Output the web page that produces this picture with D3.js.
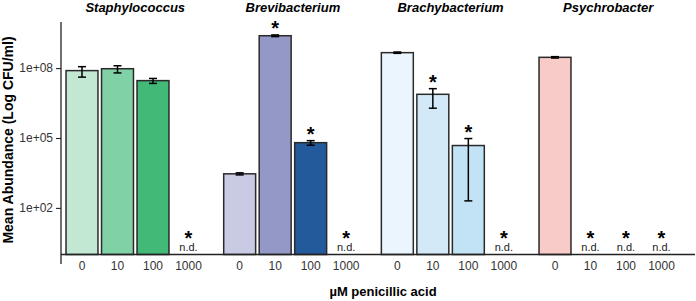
<!DOCTYPE html>
<html lang="en">
<head>
<meta charset="utf-8">
<title>Penicillic acid abundance</title>
<script src="https://d3js.org/d3.v7.min.js"></script>
<style>
  body { margin: 0; background: #fff; }
  text { font-family: "Liberation Sans", Arial, sans-serif; }
</style>
</head>
<body>
<script>
// data (CFU/ml, arithmetic mean +/- error)
var genera = ["Staphylococcus", "Brevibacterium", "Brachybacterium", "Psychrobacter"];
var doses = ["0", "10", "100", "1000"];
var means = [
  [7.8e7, 9.4e7, 2.9e7, null],
  [2.9e3, 2.45e9, 6.3e4, null],
  [4.6e8, 7.5e6, 4.75e4, null],
  [2.9e8, null, null, null]
];
var errs = [
  [3.7e7, 3.2e7, 0.7e7, null],
  [3e2, 2e8, 1.4e4, null],
  [3e7, 5.6e6, 4.73e4, null],
  [2e7, null, null, null]
];
var signif = [
  [false, false, false, true],
  [false, true, true, true],
  [false, true, true, true],
  [false, true, true, true]
];
var yTicks = [1e2, 1e5, 1e8];

var palette = [
  ["#c2e8d3", "#80d1a6", "#43b978"],
  ["#c9cae4", "#9498c7", "#235a9c"],
  ["#ebf5fd", "#d4e9f8", "#c2e2f6"],
  ["#f8cac8"]
];

var width = 696, height = 301;

var svg = d3.select("body").append("svg")
    .attr("width", width)
    .attr("height", height);

var x0 = d3.scaleBand()
    .domain(genera)
    .range([64.25, 679.25])
    .paddingInner(0.0994)
    .paddingOuter(0);

var x1 = d3.scaleBand()
    .domain(doses)
    .range([0, x0.bandwidth()])
    .paddingInner(0.1)
    .paddingOuter(0.05);

var y = d3.scaleLog()
    .domain([1, 1e10])
    .range([254.5, 21.5]);

// flatten into rows
var rows = [];
genera.forEach(function(g, gi) {
  doses.forEach(function(d, di) {
    rows.push({
      genus: g, dose: d, gi: gi, di: di,
      mean: means[gi][di], err: errs[gi][di], sig: signif[gi][di],
      x: x0(g) + x1(d)
    });
  });
});
var bars = rows.filter(function(r) { return r.mean != null; });
var nd = rows.filter(function(r) { return r.mean == null; });

// bars
svg.append("g").selectAll("rect")
  .data(bars)
  .enter().append("rect")
    .attr("x", function(d) { return d.x; })
    .attr("width", x1.bandwidth())
    .attr("y", function(d) { return y(d.mean); })
    .attr("height", function(d) { return y(1) - y(d.mean); })
    .attr("fill", function(d) { return palette[d.gi][d.di]; })
    .attr("stroke", "#2a2a2a")
    .attr("stroke-width", 1.5);

// error bars
function errHi(d) { return y(d.mean + d.err); }
function errLo(d) { return y(Math.max(d.mean - d.err, 1)); }
var eb = svg.append("g").selectAll("g")
  .data(bars)
  .enter().append("g")
    .attr("transform", function(d) { return "translate(" + (d.x + x1.bandwidth() / 2) + ",0)"; })
    .attr("stroke", "#000")
    .attr("stroke-width", 1.5);
eb.append("line").attr("y1", errHi).attr("y2", errLo);
eb.append("line").attr("x1", -4).attr("x2", 4).attr("y1", errHi).attr("y2", errHi);
eb.append("line").attr("x1", -4).attr("x2", 4).attr("y1", errLo).attr("y2", errLo);

// significance stars above bars
svg.append("g").selectAll("text")
  .data(bars.filter(function(d) { return d.sig; }))
  .enter().append("text")
    .attr("x", function(d) { return d.x + x1.bandwidth() / 2; })
    .attr("y", errHi)
    .attr("text-anchor", "middle")
    .attr("font-size", "20px")
    .attr("font-weight", "bold")
    .text("*");

// not detected
var ndg = svg.append("g").selectAll("g")
  .data(nd)
  .enter().append("g")
    .attr("transform", function(d) { return "translate(" + (d.x + x1.bandwidth() / 2) + ",0)"; });
ndg.append("text")
    .attr("y", 244.8)
    .attr("text-anchor", "middle")
    .attr("font-size", "20px")
    .attr("font-weight", "bold")
    .text("*");
ndg.append("text")
    .attr("y", 251)
    .attr("text-anchor", "middle")
    .attr("font-size", "11px")
    .attr("fill", "#222")
    .text("n.d.");

// axes
svg.append("line")
    .attr("x1", 61).attr("x2", 61)
    .attr("y1", 22).attr("y2", 264)
    .attr("stroke", "#222").attr("stroke-width", 1.3);
svg.append("line")
    .attr("x1", 61).attr("x2", 695)
    .attr("y1", y(1)).attr("y2", y(1))
    .attr("stroke", "#222").attr("stroke-width", 1.3);

var yAxis = svg.append("g")
    .attr("transform", "translate(61,0)")
    .call(d3.axisLeft(y)
      .tickValues(yTicks)
      .tickSize(5)
      .tickPadding(3)
      .tickFormat(function(v) {
        var e = Math.round(Math.log10(v));
        return "1e+" + (e < 10 ? "0" + e : e);
      }));
yAxis.select(".domain").remove();
yAxis.selectAll("line").attr("stroke", "#222").attr("stroke-width", 1.1);
yAxis.selectAll("text")
    .attr("font-size", "12px")
    .attr("font-family", "Liberation Sans, Arial, sans-serif")
    .attr("fill", "#333");

// x tick labels
svg.append("g").selectAll("text")
  .data(rows)
  .enter().append("text")
    .attr("x", function(d) { return d.x + x1.bandwidth() / 2; })
    .attr("y", 270)
    .attr("text-anchor", "middle")
    .attr("font-size", "12px")
    .attr("fill", "#333")
    .text(function(d) { return d.dose; });

// facet titles
svg.append("g").selectAll("text")
  .data(genera)
  .enter().append("text")
    .attr("x", function(g) { return x0(g) + x0.bandwidth() / 2; })
    .attr("y", 12)
    .attr("text-anchor", "middle")
    .attr("font-size", "13px")
    .attr("font-weight", "bold")
    .attr("font-style", "italic")
    .text(function(g) { return g; });

// axis titles
svg.append("text")
    .attr("x", 383)
    .attr("y", 296)
    .attr("text-anchor", "middle")
    .attr("font-size", "13px")
    .attr("font-weight", "bold")
    .text("\u00b5M penicillic acid");

svg.append("text")
    .attr("transform", "translate(13,140) rotate(-90)")
    .attr("text-anchor", "middle")
    .attr("font-size", "14px")
    .attr("font-weight", "bold")
    .text("Mean Abundance (Log CFU/ml)");
</script>
</body>
</html>
